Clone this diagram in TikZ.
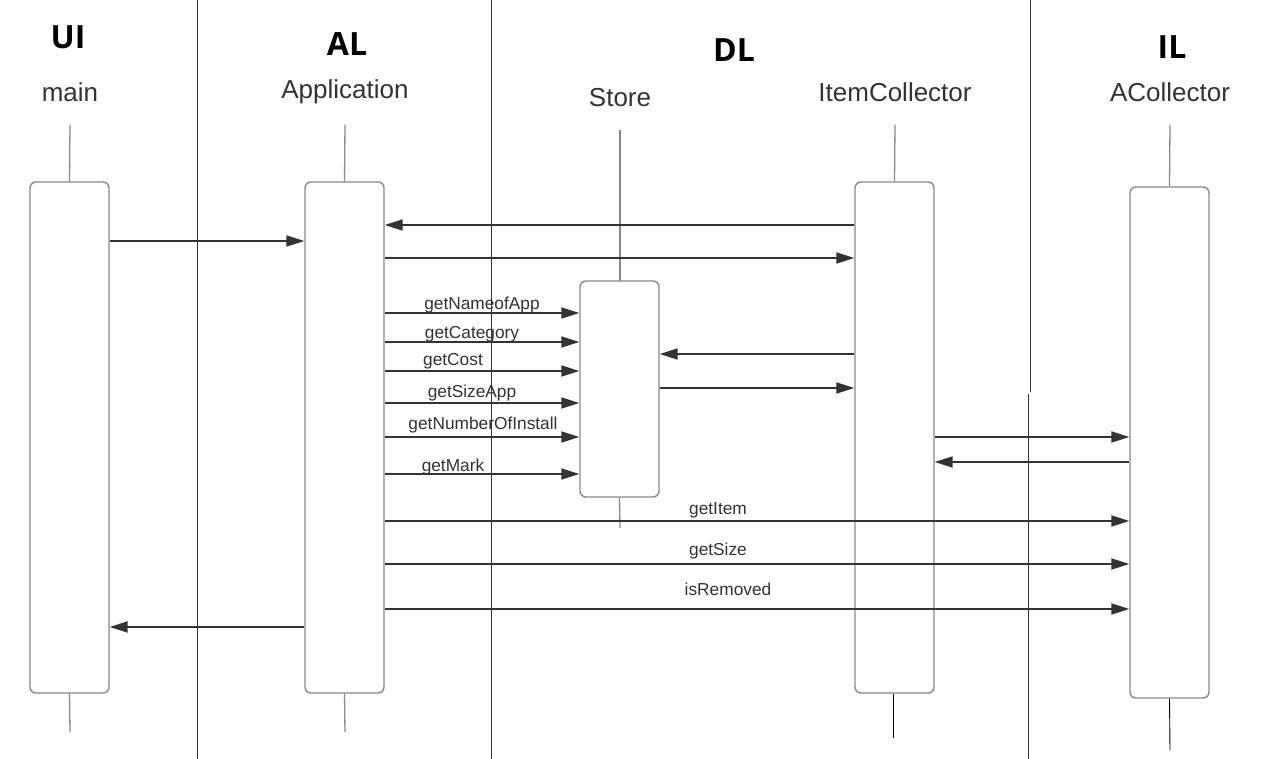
\documentclass[tikz,border=0pt]{standalone}
\usepackage{fontspec}
\setmainfont{Liberation Sans}
\newfontfamily\headfont{Open Sans}
\usetikzlibrary{arrows.meta}
\definecolor{linegray}{HTML}{333333}
\definecolor{boxgray}{HTML}{8A8A8A}
\definecolor{txtgray}{HTML}{333333}
\begin{document}
\begin{tikzpicture}[x=1pt,y=-1pt,
  act/.style={draw=boxgray, line width=1.4pt, rounded corners=6pt, fill=white, minimum width=79pt, inner sep=0pt},
  life/.style={draw=boxgray, line width=1.3pt},
  lifeb/.style={draw=black, line width=0.9pt},
  sep/.style={draw=black!80, line width=1pt},
  msg/.style={draw=linegray, line width=1.8pt, -{Triangle[length=18pt,width=11pt]}},
  head/.style={font=\headfont\bfseries\fontsize{32}{36}\selectfont, text=black, inner sep=0pt},
  objname/.style={font=\fontsize{26}{30}\selectfont, text=txtgray, inner sep=0pt},
  lbl/.style={font=\fontsize{17.3}{20}\selectfont, text=txtgray, inner sep=0pt}]
\useasboundingbox (0,0) rectangle (1280,759);
\fill[white] (0,0) rectangle (1280,759);
% separators
\coordinate (s1t) at (197,0); \coordinate (s1b) at (197,759);
\coordinate (s2t) at (491,0); \coordinate (s2b) at (491,759);
\coordinate (s3t) at (1030,0); \coordinate (s3m) at (1030,392);
\coordinate (s3n) at (1028,394); \coordinate (s3b) at (1028,759);
\draw[sep] (s1t) -- (s1b);
\draw[sep] (s2t) -- (s2b);
\draw[sep] (s3t) -- (s3m);
\draw[sep] (s3n) -- (s3b);
% headers
\node[head] (hui) at (68,37) {UI};
\node[head] (hal) at (347,44) {AL};
\node[head] (hdl) at (734,50) {DL};
\node[head] (hil) at (1172,47) {IL};
\node[objname] (nmain) at (70,92) {main};
\node[objname] (napp) at (345,92) {Application};
\node[objname] (nstore) at (620,98) {Store};
\node[objname] (nic) at (895,92) {ItemCollector};
\node[objname] (nac) at (1170,92) {ACollector};
% lifeline tops
\coordinate (lmt) at (70,125); \coordinate (lat) at (345,125);
\coordinate (lst) at (620,130); \coordinate (lit) at (895,125);
\coordinate (lct) at (1170,125);
% activation boxes
\node[act, minimum height=511pt] (mainb) at (69.5,437.5) {};
\node[act, minimum height=511pt] (appb) at (344.5,437.5) {};
\node[act, minimum height=511pt] (icb) at (894.5,437.5) {};
\node[act, minimum height=511pt] (acb) at (1169.5,442.5) {};
\draw[life] (lmt) -- (mainb.north);
\draw[life] (lat) -- (appb.north);
\draw[life] (lit) -- (icb.north);
\draw[life] (lct) -- (acb.north);
\draw[life] (lst) -- (620,281);
\node[act, minimum height=216pt] (storeb) at (619.5,389) {};
% lifeline bottoms
\coordinate (lmb) at (70,732); \coordinate (lab) at (345,732);
\coordinate (lsb) at (620,528); \coordinate (lib) at (893,738);
\coordinate (lcb) at (1170,750);
\draw[life] (mainb.south) -- (lmb);
\draw[life] (appb.south) -- (lab);
\draw[life] (storeb.south) -- (lsb);
\draw[lifeb] (893,693.7) -- (lib);
\draw[lifeb] (acb.south) -- (lcb);
% messages
\draw[msg] (icb.west |- 0,225) -- (appb.east |- 0,225);
\draw[msg] (mainb.east |- 0,241) -- (appb.west |- 0,241);
\draw[msg] (appb.east |- 0,258) -- (icb.west |- 0,258);
\draw[msg] (appb.east |- 0,313) -- (storeb.west |- 0,313);
\draw[msg] (appb.east |- 0,342) -- (storeb.west |- 0,342);
\draw[msg] (appb.east |- 0,371) -- (storeb.west |- 0,371);
\draw[msg] (appb.east |- 0,403) -- (storeb.west |- 0,403);
\draw[msg] (appb.east |- 0,437) -- (storeb.west |- 0,437);
\draw[msg] (appb.east |- 0,474) -- (storeb.west |- 0,474);
\draw[msg] (icb.west |- 0,354) -- (storeb.east |- 0,354);
\draw[msg] (storeb.east |- 0,388) -- (icb.west |- 0,388);
\draw[msg] (icb.east |- 0,437) -- (acb.west |- 0,437);
\draw[msg] (acb.west |- 0,462) -- (icb.east |- 0,462);
\draw[msg] (appb.east |- 0,521) -- (acb.west |- 0,521);
\draw[msg] (appb.east |- 0,564) -- (acb.west |- 0,564);
\draw[msg] (appb.east |- 0,609) -- (acb.west |- 0,609);
\draw[msg] (appb.west |- 0,627) -- (mainb.east |- 0,627);
% labels
\node[lbl] (l1) at (482,305) {getNameofApp};
\node[lbl] (l2) at (472,334) {getCategory};
\node[lbl] (l3) at (453,361) {getCost};
\node[lbl] (l4) at (472,393) {getSizeApp};
\node[lbl] (l5) at (483,425) {getNumberOfInstall};
\node[lbl] (l6) at (453,467) {getMark};
\node[lbl] (l7) at (718,510) {getItem};
\node[lbl] (l8) at (718,551) {getSize};
\node[lbl] (l9) at (728,589) {isRemoved};
\end{tikzpicture}
\end{document}
